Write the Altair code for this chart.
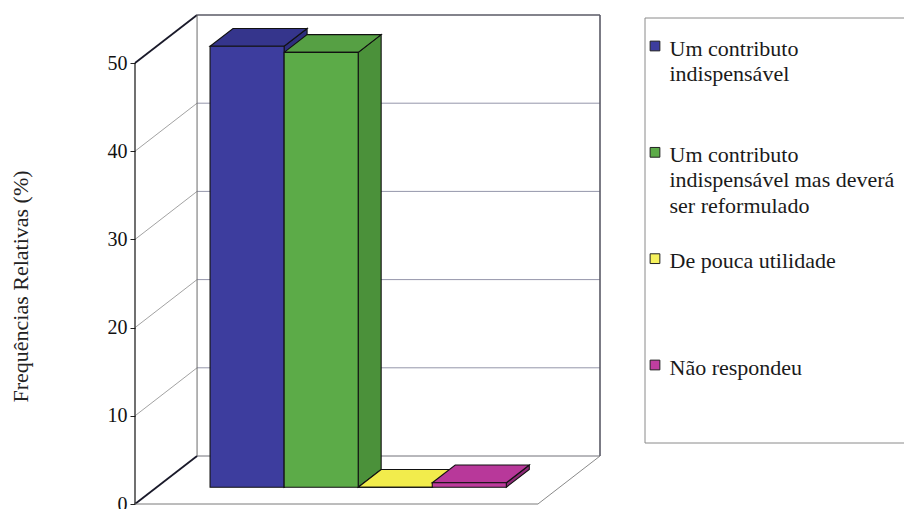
import altair as alt
import pandas as pd

# ---- data -------------------------------------------------------------
categories = [
    "Um contributo\nindispensável",
    "Um contributo\nindispensável mas deverá\nser reformulado",
    "De pouca utilidade",
    "Não respondeu",
]
values = [50.0, 49.3, 0.0, 0.5]
y_ticks = [0, 10, 20, 30, 40, 50]

front_colors = ["#3d3d9e", "#5cab48", "#f4ef55", "#bd3c9c"]
top_colors = ["#35358c", "#56a044", "#f2ec4c", "#b8389a"]
side_colors = ["#2e2e7e", "#4b913a", "#d8d23c", "#8e2a78"]
legend_colors = ["#3d3d9e", "#5cab48", "#f6f25c", "#c03ea0"]

# ---- oblique projection of the 3-D box -----------------------------------
PX_U = 74.0            # pixels per category slot
PX_V = 8.82            # pixels per percentage point
WALL_DX = 62 / PX_U    # depth shift of the back wall, in category units
WALL_DY = 48 / PX_V    # depth shift of the back wall, in value units
GAP = 0.72             # floor margin either side of the bars
D0, D1 = 0.35, 0.72    # depth span occupied by the columns
Y_MAX = 50

n = len(categories)
X_MIN = -GAP
X_RIGHT = n + GAP
X_MAX = X_RIGHT + WALL_DX
Y_TOP = Y_MAX + WALL_DY
W = round((X_MAX - X_MIN) * PX_U)
H = round(Y_TOP * PX_V)


def proj(u, v, d):
    return u + d * WALL_DX, v + d * WALL_DY


# wall edges, gridlines and floor
segs = []


def seg(p, q, color, width):
    segs.append({"x": p[0], "y": p[1], "x2": q[0], "y2": q[1],
                 "c": color, "w": width})


for t in y_ticks:
    # back-wall horizontal line
    col = "#5a5a66" if t == Y_MAX else ("#707078" if t == 0 else "#9496aa")
    seg(proj(X_MIN, t, 1), proj(X_RIGHT, t, 1), col, 1.6 if t == Y_MAX else 1.0)
    # side-wall diagonal
    if t in (0, Y_MAX):
        seg(proj(X_MIN, t, 0), proj(X_MIN, t, 1), "#1a1a2a", 1.8)
    else:
        seg(proj(X_MIN, t, 0), proj(X_MIN, t, 1), "#8a8a8a", 0.8)

seg(proj(X_MIN, 0, 1), proj(X_MIN, Y_MAX, 1), "#6a6a6a", 1.0)
seg(proj(X_RIGHT, 0, 1), proj(X_RIGHT, Y_MAX, 1), "#5a5a66", 1.6)
seg(proj(X_MIN, 0, 0), proj(X_MIN, Y_MAX, 0), "#111111", 1.2)
seg(proj(X_MIN, 0, 0), proj(X_RIGHT, 0, 0), "#7a7a7a", 1.0)
seg(proj(X_RIGHT, 0, 0), proj(X_RIGHT, 0, 1), "#8a8a8a", 1.0)
lines = pd.DataFrame(segs)

# column faces
fronts, tops, sides = [], [], []
for i, (cat, v) in enumerate(zip(categories, values)):
    fx0, fy0 = proj(i, 0, D0)
    fx1, fy1 = proj(i + 1, v, D0)
    fronts.append({"k": cat, "x": fx0, "x2": fx1, "y": fy0, "y2": fy1,
                   "c": front_colors[i]})
    # top face as a parallelogram (lower / upper edge per x)
    a_x, a_y = proj(i, v, D0)
    b_x, _ = proj(i + 1, v, D0)
    c_x, c_y = proj(i, v, D1)
    d_x, _ = proj(i + 1, v, D1)
    for x, lo, hi in [(a_x, a_y, a_y), (c_x, a_y, c_y),
                      (b_x, a_y, c_y), (d_x, c_y, c_y)]:
        tops.append({"k": cat, "x": x, "y": lo, "y2": hi, "c": top_colors[i]})
    # right side face
    s0x, s0y = proj(i + 1, 0, D0)
    s1x, s1y = proj(i + 1, 0, D1)
    sides.append({"k": cat, "x": s0x, "y": s0y, "y2": s0y + v, "c": side_colors[i]})
    sides.append({"k": cat, "x": s1x, "y": s1y, "y2": s1y + v, "c": side_colors[i]})

fronts = pd.DataFrame(fronts)
tops = pd.DataFrame(tops)
sides = pd.DataFrame(sides)

SERIF = "Liberation Serif"
xs = alt.Scale(domain=[X_MIN, X_MAX], nice=False, zero=False)
ys = alt.Scale(domain=[0, Y_TOP], nice=False, zero=False)

y_axis = alt.Axis(
    values=y_ticks, domain=False, grid=False, ticks=True, tickSize=5,
    tickColor="#222222", labelColor="#111111", labelFont=SERIF,
    labelFontSize=20, labelPadding=3,
    title="Frequências Relativas (%)", titleFont=SERIF, titleFontSize=22,
    titleFontWeight="normal", titleColor="#222222", titleAngle=270,
    titleAlign="center", titleBaseline="alphabetic", titleX=-108, titleY=271,
)
X_ENC = alt.X("x:Q", scale=xs, axis=None)
Y_ENC = alt.Y("y:Q", scale=ys, axis=y_axis)

rules = alt.Chart(lines).mark_rule().encode(
    x=X_ENC, x2="x2:Q", y=Y_ENC, y2="y2:Q",
    color=alt.Color("c:N", scale=None),
    strokeWidth=alt.StrokeWidth("w:Q", scale=None),
)

side_layer = alt.Chart(sides).mark_area(
    orient="vertical", stroke="#111111", strokeWidth=1.1, opacity=1
).encode(x=X_ENC, y=Y_ENC, y2="y2:Q", detail="k:N",
         fill=alt.Fill("c:N", scale=None))

top_layer = alt.Chart(tops).mark_area(
    orient="vertical", stroke="#111111", strokeWidth=1.1, opacity=1
).encode(x=X_ENC, y=Y_ENC, y2="y2:Q", detail="k:N",
         fill=alt.Fill("c:N", scale=None))

front_layer = alt.Chart(fronts).mark_rect(
    stroke="#111111", strokeWidth=1.1, opacity=1
).encode(x=X_ENC, x2="x2:Q", y=Y_ENC, y2="y2:Q",
         fill=alt.Fill("c:N", scale=None))

plot3d = alt.layer(rules, side_layer, top_layer, front_layer)

# ---- legend: swatches on a point scale, entry text as that scale's axis ----
LEG_X = 534  # left edge of the entry text, relative to the plot origin
leg = pd.DataFrame({"cat": categories, "c": legend_colors})
leg_axis = alt.Axis(
    orient="right", offset=LEG_X - W, domain=False, ticks=False, grid=False,
    labelPadding=0, labelAlign="left", labelBaseline="alphabetic", labelOffset=9,
    labelExpr="split(datum.label, '\\n')", labelLineHeight=25.5,
    labelFont=SERIF, labelFontSize=22, labelColor="#1a1a1a",
    labelLimit=0, labelOverlap=False, labelBound=False, title=None, zindex=2,
)
leg_y = alt.Y("cat:N", scale=alt.Scale(domain=categories, range=[31, 350], padding=0),
              axis=leg_axis)

frame = alt.Chart(pd.DataFrame({"k": [0]})).mark_rect(
    fill="transparent", stroke="#8a8a8a", strokeWidth=1
).encode(x=alt.value(510), x2=alt.value(800), y=alt.value(3), y2=alt.value(428))

swatch = alt.Chart(leg).mark_square(
    size=95, opacity=1, stroke="#222222", strokeWidth=1
).encode(x=alt.value(520), y=leg_y, fill=alt.Fill("c:N", scale=None))

legend = alt.layer(frame, swatch)

chart = alt.layer(plot3d, legend).resolve_scale(y="independent", x="independent").properties(
    width=W,
    height=H,
    padding={"left": 135, "top": 15, "right": 904 - 135 - W, "bottom": 509 - 15 - H},
    autosize=alt.AutoSizeParams(type="none"),
    background="white",
).configure_view(stroke=None)

chart.save("out.html", embed_options={"renderer": "svg", "actions": False})
